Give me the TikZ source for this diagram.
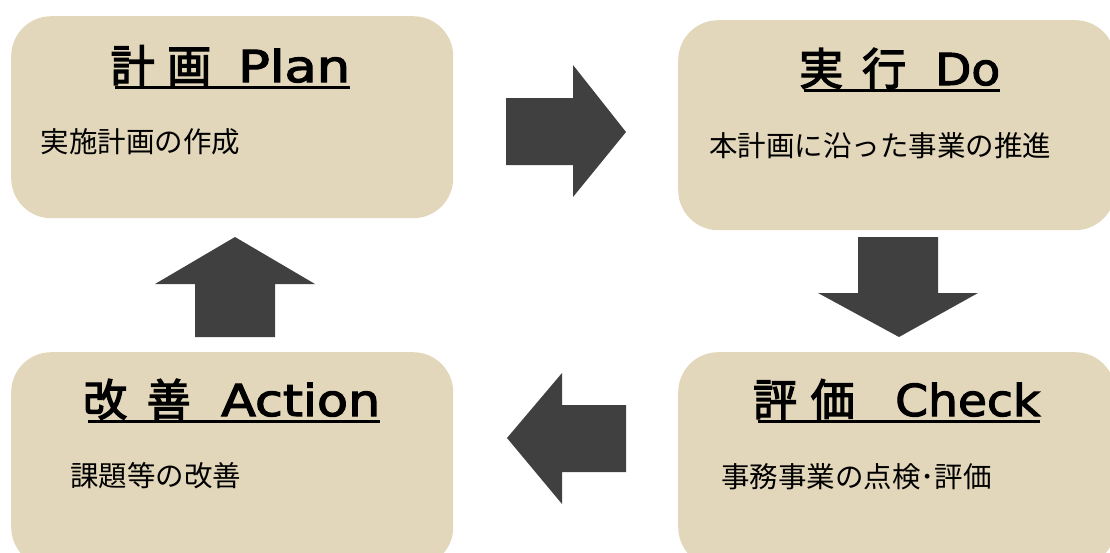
\documentclass[tikz,border=0pt]{standalone}
\usepackage{fontspec}
\usepackage{graphicx}
\setmainfont{Noto Sans CJK JP}
\newfontfamily\tcjk[FakeBold=3]{Noto Sans CJK JP}
\newfontfamily\tlatfont[FakeBold=2.5]{DejaVu Sans}
\newcommand{\lat}[2]{\resizebox{#1}{\height}{\tlatfont #2}}
\definecolor{boxc}{HTML}{E2D7BA}
\definecolor{arrc}{HTML}{404040}
\begin{document}
\begin{tikzpicture}[x=1pt,y=-1pt,
  card/.style={fill=boxc, rounded corners=40pt, inner sep=0pt, anchor=north west},
  ttl/.style={inner sep=0pt, anchor=base west, font=\fontsize{44}{50}\selectfont},
  body/.style={inner sep=0pt, anchor=west, font=\fontsize{28.5}{32}\selectfont},
  uline/.style={line width=3pt},
  blockarrow/.style={fill=arrc}]
\useasboundingbox (0,0) rectangle (1110,552);
% boxes
\node[card, minimum width=442pt, minimum height=202pt] (plan) at (11,16) {};
\node[card, minimum width=437pt, minimum height=210pt] (do) at (678,20) {};
\node[card, minimum width=437pt, minimum height=215pt] (check) at (678,352) {};
\node[card, minimum width=442pt, minimum height=215pt] (act) at (11,352) {};
% titles
\node[ttl] (plant) at (110.5,82) {\tcjk 計\hspace{12.5pt}画\hspace{27pt}\lat{112pt}{Plan}};
\node[ttl] (dot) at (799,85) {\tcjk 実\hspace{19pt}行\hspace{29pt}\lat{65pt}{Do}};
\node[ttl] (checkt) at (753,416) {\tcjk 評\hspace{13.5pt}価\hspace{40.5pt}\lat{145pt}{Check}};
\node[ttl] (actt) at (83,416) {\tcjk 改\hspace{19.5pt}善\hspace{30.5pt}\lat{159pt}{Action}};
\foreach \t in {plant,dot,checkt,actt}
  \draw[uline] ([xshift=4.5pt,yshift=-5pt]\t.base west) -- ([yshift=-5pt]\t.base east);
% bodies
\node[body] (planb) at (40.5,142) {実施計画の作成};
\node[body] (dob) at (709,146) {本計画に沿った事業の推進};
\node[body] (checkb) at (721,477) {事務事業の点検･評価};
\node[body] (actb) at (70,476) {課題等の改善};
% arrows
\fill[blockarrow] (506,98) -- (573,98) -- (573,65) -- (626,132) -- (573,197) -- (573,165) -- (506,165) -- cycle;
\fill[blockarrow] (858,237) -- (938,237) -- (938,293) -- (978,293) -- (899,337) -- (818,293) -- (858,293) -- cycle;
\fill[blockarrow] (626,405) -- (562,405) -- (562,373) -- (507,438) -- (562,504) -- (562,472) -- (626,472) -- cycle;
\fill[blockarrow] (195,337) -- (195,284) -- (155,284) -- (235,237) -- (315,284) -- (275,284) -- (275,337) -- cycle;
\end{tikzpicture}
\end{document}
